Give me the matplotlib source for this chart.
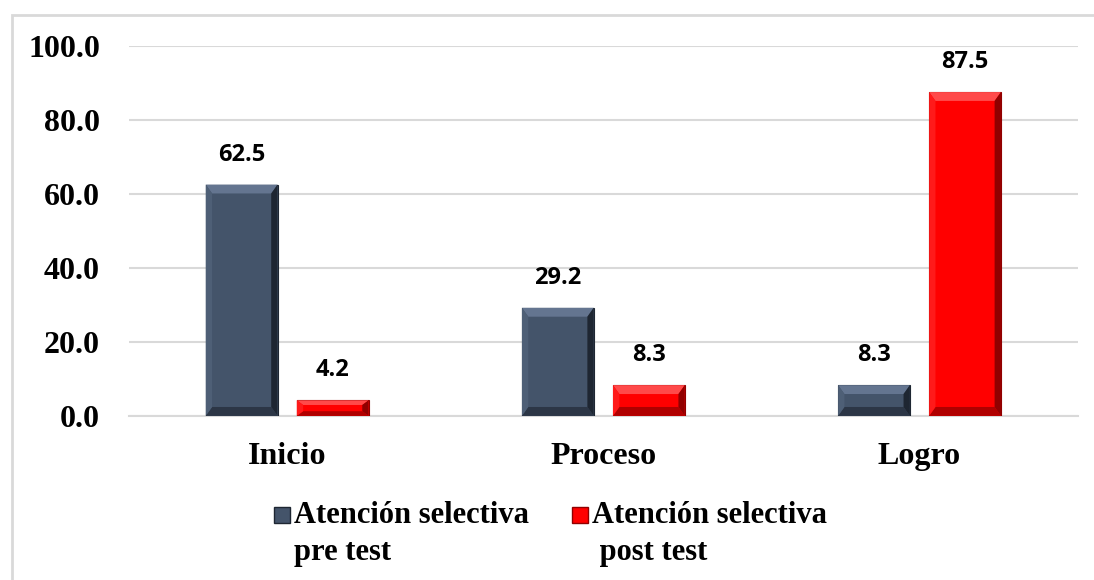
import matplotlib
matplotlib.use('Agg')
import matplotlib.pyplot as plt
from matplotlib.patches import Rectangle
import numpy as np

categorias = ['Inicio', 'Proceso', 'Logro']
pre_test = [62.5, 29.2, 8.3]
post_test = [4.2, 8.3, 87.5]
series_labels = ['Atención selectiva\npre test', 'Atención selectiva\n post test']
yticks = [0, 20, 40, 60, 80, 100]

col_pre = '#44546A'
col_post = '#FF0000'
bevel_pre = ('#647590', '#2C3646', '#4E5F76', '#1E2632')   # top, bottom, left, right
bevel_post = ('#FF4A4A', '#B00000', '#FF1A1A', '#900000')

fig = plt.figure(figsize=(10.94, 5.8), dpi=100)
ax = fig.add_axes([0.118, 0.283, 0.867, 0.638])

# gray border of the chart area (cropped at right/bottom in the original)
fig.patches.append(Rectangle((12/1094, -0.05), 1.2, 1 - 15/580 + 0.05,
                             transform=fig.transFigure, fill=False,
                             edgecolor='#D9D9D9', linewidth=2))

x = np.arange(len(categorias))
w = 0.227
off = 0.144


def bevel_bar(xc, h, face, bev):
    x0, x1 = xc - w/2, xc + w/2
    ax.bar(xc, h, w, color=face, edgecolor=bev[3], linewidth=0.8, zorder=3)
    dx = 0.02
    dy = min(2.4, h * 0.3)
    ax.fill([x0, x1, x1-dx, x0+dx], [h, h, h-dy, h-dy], color=bev[0], lw=0, zorder=4)
    ax.fill([x0, x1, x1-dx, x0+dx], [0, 0, dy, dy], color=bev[1], lw=0, zorder=4)
    ax.fill([x0, x0, x0+dx, x0+dx], [0, h, h-dy, dy], color=bev[2], lw=0, zorder=4)
    ax.fill([x1, x1, x1-dx, x1-dx], [0, h, h-dy, dy], color=bev[3], lw=0, zorder=4)
    ax.annotate(f'{h:.1f}', (xc, h), xytext=(0, 13), textcoords='offset points',
                ha='center', va='bottom', fontsize=17, fontweight='bold',
                family='Open Sans', color='black')


for i in range(len(categorias)):
    bevel_bar(x[i] - off, pre_test[i], col_pre, bevel_pre)
    bevel_bar(x[i] + off, post_test[i], col_post, bevel_post)

ax.set_xlim(-0.5, 2.5)
ax.set_ylim(0, 100)
ax.set_yticks(yticks)
ax.set_yticklabels([f'{v:.1f}' for v in yticks])
ax.set_xticks(x)
ax.set_xticklabels(categorias)
for lab in ax.get_xticklabels() + ax.get_yticklabels():
    lab.set_family('Liberation Serif')
    lab.set_fontweight('bold')
    lab.set_fontsize(23)
ax.tick_params(axis='y', length=0, pad=21)
ax.tick_params(axis='x', length=0, pad=19)
ax.grid(axis='y', color='#D9D9D9', linewidth=1.5, zorder=0)
ax.set_axisbelow(True)
for s in ['top', 'right', 'left']:
    ax.spines[s].set_visible(False)
ax.spines['bottom'].set_color('#D9D9D9')
ax.spines['bottom'].set_linewidth(1.5)

# legend drawn by hand so the marker sits on the first line
leg_x = [274/1094, 572/1094]
for lx, col, bev, lab in zip(leg_x, [col_pre, col_post], [bevel_pre, bevel_post], series_labels):
    fig.patches.append(Rectangle((lx, 1 - 523/580), 16/1094, 16/580,
                                 transform=fig.transFigure, facecolor=col,
                                 edgecolor=bev[3], linewidth=1))
    fig.text(lx + 20/1094, 1 - 501/580, lab, ha='left', va='top',
             family='Liberation Serif', fontweight='bold', fontsize=22,
             linespacing=1.38)

plt.savefig('out.png', dpi=100, facecolor='white')
